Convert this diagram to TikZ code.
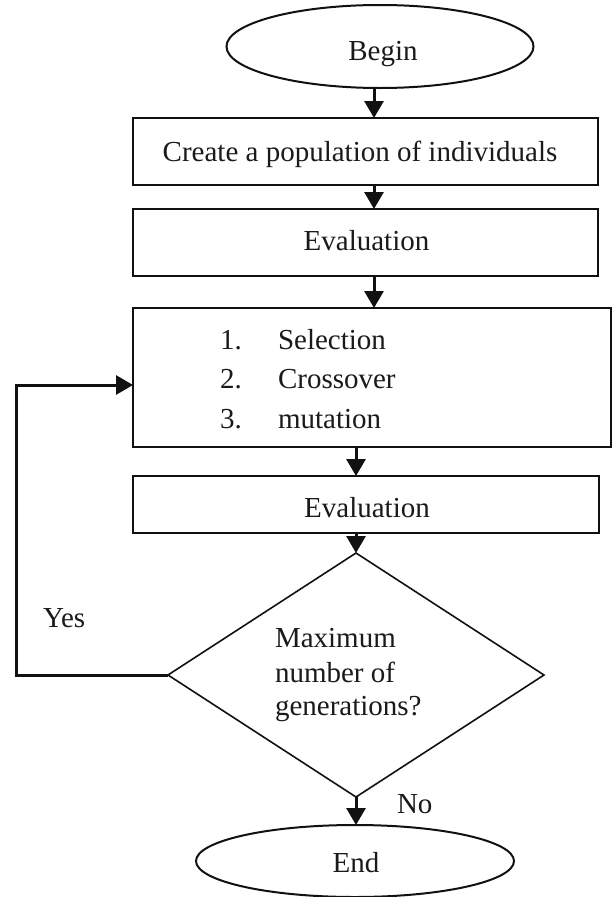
\documentclass[tikz,border=0pt]{standalone}
\usepackage{fontspec}
\setmainfont{Liberation Serif}
\usetikzlibrary{shapes.geometric,arrows.meta}

\definecolor{ink}{HTML}{111111}
\definecolor{txtcol}{HTML}{1A1A1A}

\tikzset{
  box/.style={draw=ink, line width=2.6pt, rectangle, inner sep=0pt, outer sep=0pt},
  oval/.style={draw=ink, line width=2pt, ellipse, inner sep=0pt, outer sep=0pt},
  decision/.style={draw=ink, line width=1.6pt, diamond, inner sep=0pt, outer sep=0pt},
  lbl/.style={text=txtcol, inner sep=0pt, outer sep=0pt,
              font=\fontsize{29}{34}\selectfont},
  arr/.style={draw=ink, line width=3pt,
              -{Triangle[length=17pt,width=19pt]}},
  plain/.style={draw=ink, line width=3pt}
}

\begin{document}
\begin{tikzpicture}[x=1pt,y=-1pt]
  \useasboundingbox (0,0) rectangle (614,897);
  \fill[white] (0,0) rectangle (614,897);

  % shapes
  \node[oval, minimum width=307pt, minimum height=83pt] (begin) at (380,46.5) {};
  \node[box, minimum width=465pt, minimum height=67pt] (create) at (365.5,151.5) {};
  \node[box, minimum width=465pt, minimum height=67pt] (evalA) at (365.5,242.5) {};
  \node[box, minimum width=478pt, minimum height=139pt] (ops) at (372,377.5) {};
  \node[box, minimum width=466pt, minimum height=57pt] (evalB) at (366,504.5) {};
  \node[decision, minimum width=376pt, minimum height=244pt] (check) at (356,675) {};
  \node[oval, minimum width=318pt, minimum height=72pt] (end) at (355,861) {};

  % texts
  \node[lbl, anchor=base] (beginT) at (383,60) {Begin};
  \node[lbl, anchor=base] (createT) at (360,161) {Create a population of individuals};
  \node[lbl, anchor=base] (evalAT) at (366.5,250) {Evaluation};
  \node[lbl, anchor=base west] (n1) at (220,349) {1.};
  \node[lbl, anchor=base west] (s1) at (278,349) {Selection};
  \node[lbl, anchor=base west] (n2) at (220,388) {2.};
  \node[lbl, anchor=base west] (s2) at (278,388) {Crossover};
  \node[lbl, anchor=base west] (n3) at (220,428) {3.};
  \node[lbl, anchor=base west] (s3) at (278,428) {mutation};
  \node[lbl, anchor=base] (evalBT) at (367,517) {Evaluation};
  \node[lbl, anchor=base west] (q1) at (275,647) {Maximum};
  \node[lbl, anchor=base west] (q2) at (275,682) {number of};
  \node[lbl, anchor=base west] (q3) at (275,715) {generations?};
  \node[lbl, anchor=base] (endT) at (356,872) {End};
  \node[lbl, anchor=base west] (yes) at (43,627) {Yes};
  \node[lbl, anchor=base west] (no) at (397,813) {No};

  % connectors
  \coordinate (ax) at (374,0);
  \coordinate (loop) at (16,385);
  \draw[arr] (begin.south -| ax) -- (create.north -| ax);
  \draw[arr] (create.south -| ax) -- (evalA.north -| ax);
  \draw[arr] (evalA.south -| ax) -- (ops.north -| ax);
  \draw[arr] (ops.south -| check.north) -- (evalB.north -| check.north);
  \draw[arr] (evalB.south -| check.north) -- (check.north);
  \draw[arr] (check.south) -- (end.north -| check.south);
  \draw[arr] (check.west) -| (loop) -- (ops.west |- loop);
\end{tikzpicture}
\end{document}
